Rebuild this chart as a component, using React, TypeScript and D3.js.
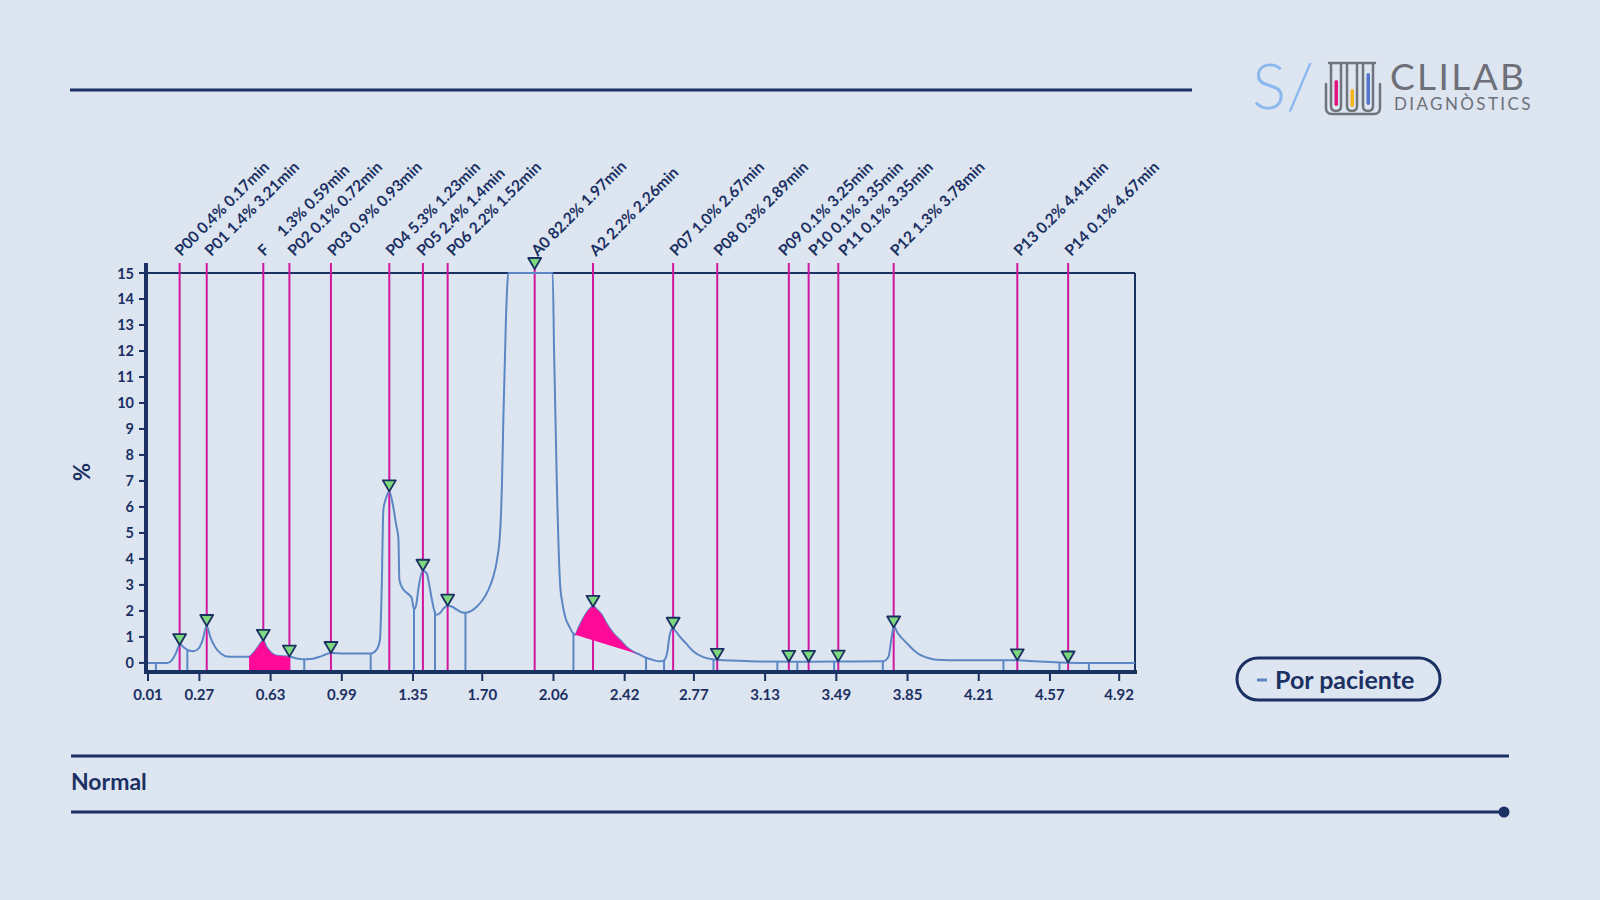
import React from "react";
import * as d3 from "d3";

const xTicks = [0.01, 0.27, 0.63, 0.99, 1.35, 1.70, 2.06, 2.42, 2.77, 3.13, 3.49, 3.85, 4.21, 4.57, 4.92];
const yTicks = [0, 1, 2, 3, 4, 5, 6, 7, 8, 9, 10, 11, 12, 13, 14, 15];

const peakNames = ["P00", "P01", "F", "P02", "P03", "P04", "P05", "P06", "A0", "A2", "P07", "P08", "P09", "P10", "P11", "P12", "P13", "P14"];
const peakPercents = ["0.4%", "1.4%", "1.3%", "0.1%", "0.9%", "5.3%", "2.4%", "2.2%", "82.2%", "2.2%", "1.0%", "0.3%", "0.1%", "0.1%", "0.1%", "1.3%", "0.2%", "0.1%"];
const peakLabelTimes = ["0.17min", "3.21min", "0.59min", "0.72min", "0.93min", "1.23min", "1.4min", "1.52min", "1.97min", "2.26min", "2.67min", "2.89min", "3.25min", "3.35min", "3.35min", "3.78min", "4.41min", "4.67min"];
const peakTimes = [0.17, 0.307, 0.593, 0.725, 0.935, 1.23, 1.40, 1.525, 1.965, 2.26, 2.665, 2.888, 3.25, 3.35, 3.50, 3.78, 4.405, 4.662];

const curveTimes = [
  0.0, 0.108, 0.13, 0.15, 0.172, 0.19, 0.215, 0.24, 0.265, 0.285, 0.307, 0.325, 0.35, 0.38, 0.408, 0.45,
  0.521, 0.545, 0.565, 0.593, 0.61, 0.627, 0.645, 0.661, 0.728, 0.77, 0.812, 0.85, 0.88, 0.91, 0.935, 1.0,
  1.136, 1.165, 1.183, 1.192, 1.2, 1.212, 1.23, 1.25, 1.265, 1.276, 1.281, 1.295, 1.318, 1.343, 1.355, 1.365,
  1.38, 1.399, 1.419, 1.432, 1.445, 1.466, 1.487, 1.505, 1.525, 1.55, 1.571, 1.595, 1.615, 1.645, 1.672, 1.70,
  1.731, 1.755, 1.773, 1.79, 1.80, 1.807, 1.82, 1.832, 2.056, 2.063, 2.077, 2.093, 2.105, 2.119, 2.14, 2.169,
  2.19, 2.211, 2.24, 2.262, 2.28, 2.304, 2.33, 2.363, 2.40, 2.431, 2.465, 2.498, 2.528, 2.56, 2.599, 2.619,
  2.635, 2.646, 2.663, 2.68, 2.70, 2.73, 2.768, 2.818, 2.869, 2.886, 3.0, 3.105, 3.3, 3.5, 3.725, 3.754,
  3.768, 3.781, 3.80, 3.846, 3.88, 3.914, 3.95, 3.998, 4.116, 4.335, 4.406, 4.5, 4.618, 4.8, 5.0,
];
const curveValues = [
  0.0, 0.0, 0.1, 0.35, 0.72, 0.6, 0.48, 0.45, 0.55, 0.85, 1.42, 1.0, 0.6, 0.35, 0.25, 0.24,
  0.24, 0.4, 0.6, 0.85, 0.6, 0.44, 0.32, 0.28, 0.24, 0.16, 0.14, 0.17, 0.24, 0.33, 0.38, 0.36,
  0.36, 0.5, 0.9, 3.0, 5.9, 6.3, 6.6, 6.0, 5.3, 4.8, 3.2, 2.9, 2.7, 2.5, 2.06, 2.2,
  3.0, 3.55, 3.45, 3.0, 2.45, 1.85, 1.92, 2.1, 2.2, 2.15, 2.05, 1.95, 1.93, 2.0, 2.16, 2.4,
  2.81, 3.3, 3.9, 5.0, 7.0, 9.5, 13.3, 15, 15, 12.0, 6.9, 3.1, 2.3, 1.78, 1.4, 1.08,
  1.4, 1.72, 2.05, 2.17, 2.05, 1.85, 1.5, 1.14, 0.85, 0.6, 0.42, 0.31, 0.2, 0.12, 0.06, 0.1,
  0.4, 1.0, 1.33, 1.2, 1.0, 0.75, 0.44, 0.22, 0.14, 0.12, 0.08, 0.05, 0.04, 0.05, 0.06, 0.24,
  0.9, 1.4, 1.15, 0.76, 0.5, 0.31, 0.2, 0.12, 0.1, 0.1, 0.1, 0.06, 0.02, 0.0, 0.0,
];

const boundaryTimes = [0.05, 0.209, 0.80, 1.136, 1.355, 1.461, 1.615, 2.161, 2.528, 2.619, 2.869, 3.192, 3.293, 3.479, 3.725, 4.335, 4.618, 4.767];

const fFillRange = [0.521, 0.728];
const a2FillRange = [2.169, 2.498];

const NAVY = "#1b3063";
const BLUE = "#5b87c5";
const MAGENTA = "#d0179e";
const PINK = "#ff0a98";
const BG = "#dde5f0";
const FONT = "Lato, 'Open Sans', sans-serif";

function spreadLabels(desired: number[], gap: number): number[] {
  const pos = desired.slice();
  for (let iter = 0; iter < 300; iter++) {
    let moved = false;
    for (let i = 1; i < pos.length; i++) {
      const d = pos[i] - pos[i - 1];
      if (d < gap - 0.01) {
        const push = (gap - d) / 2;
        pos[i - 1] -= push;
        pos[i] += push;
        moved = true;
      }
    }
    if (!moved) break;
  }
  return pos;
}

export default function App() {
  const x = d3.scaleLinear().domain([0, 5]).range([146, 1135]);
  const y = d3.scaleLinear().domain([-0.35, 15]).range([672, 273]);
  const pts: [number, number][] = curveTimes.map((t, i) => [t, curveValues[i]]);
  const interp = (t: number) => {
    const i = d3.bisector((d: [number, number]) => d[0]).left(pts, t);
    if (i <= 0) return pts[0][1];
    if (i >= pts.length) return pts[pts.length - 1][1];
    const [t0, v0] = pts[i - 1];
    const [t1, v1] = pts[i];
    return v0 + ((v1 - v0) * (t - t0)) / (t1 - t0);
  };
  const line = d3.line<[number, number]>().x((d) => x(d[0])).y((d) => y(d[1])).curve(d3.curveMonotoneX);
  const area = d3
    .area<[number, number]>()
    .x((d) => x(d[0]))
    .y0(y(-0.3))
    .y1((d) => y(d[1]))
    .curve(d3.curveMonotoneX);

  const fPts: [number, number][] = [[fFillRange[0], interp(fFillRange[0])], ...pts.filter((p) => p[0] > fFillRange[0] && p[0] < fFillRange[1]), [fFillRange[1], interp(fFillRange[1])]];
  const a2Pts: [number, number][] = [[a2FillRange[0], interp(a2FillRange[0])], ...pts.filter((p) => p[0] > a2FillRange[0] && p[0] < a2FillRange[1]), [a2FillRange[1], interp(a2FillRange[1])]];
  const a2Top = d3.line<[number, number]>().x((d) => x(d[0])).y((d) => y(d[1])).curve(d3.curveMonotoneX)(a2Pts) || "";
  const a2Path = a2Top + `L${x(a2Pts[0][0])},${y(a2Pts[0][1])}Z`;

  const axisBottom = 672;
  const labelX = spreadLabels(peakTimes.map((t) => x(t) + 3), 30);

  return (
    <svg width={1600} height={900} style={{ position: "absolute", left: 0, top: 0 }} fontFamily={FONT}>
      <rect x={0} y={0} width={1600} height={900} fill={BG} />
      {/* header line */}
      <line x1={70} x2={1192} y1={90} y2={90} stroke={NAVY} strokeWidth={3} />

      {/* logo */}
      <text x={1252} y={109} fontSize={64} fontWeight={300} fill="#8cb8f0">S/</text>
      <g stroke="#70747c" strokeWidth={2.5} fill="none" strokeLinecap="round" strokeLinejoin="round">
        <path d="M1326,84 L1326,108 Q1326,114 1332,114 L1374,114 Q1380,114 1380,108 L1380,84" />
        <path d="M1331,64 L1331,106 Q1331,111 1336,111 Q1341,111 1341,106 L1341,64" />
        <path d="M1347,64 L1347,106 Q1347,111 1352,111 Q1357,111 1357,106 L1357,64" />
        <path d="M1363,64 L1363,106 Q1363,111 1368,111 Q1373,111 1373,106 L1373,64" />
        <line x1={1329} x2={1343} y1={63} y2={63} />
        <line x1={1345} x2={1359} y1={63} y2={63} />
        <line x1={1361} x2={1375} y1={63} y2={63} />
      </g>
      <rect x={1334.5} y={80} width={3.5} height={26} rx={1.7} fill="#e0147f" />
      <rect x={1350.5} y={89} width={3.5} height={18} rx={1.7} fill="#f4b41c" />
      <rect x={1366.5} y={73} width={3.5} height={32} rx={1.7} fill="#5475cc" />
      <text x={1390} y={90} fontSize={37} fontWeight={400} fill="#6d7079" letterSpacing={2.4}>CLILAB</text>
      <text x={1394} y={110} fontSize={17} fontWeight={400} fill="#6d7079" letterSpacing={2.4}>DIAGNÒSTICS</text>

      {/* plot frame */}
      <line x1={146} x2={1135} y1={273} y2={273} stroke={NAVY} strokeWidth={2} />
      <line x1={1135} x2={1135} y1={273} y2={axisBottom} stroke={NAVY} strokeWidth={2} />

      {/* magenta peak lines */}
      {peakTimes.map((t, i) => (
        <line key={"m" + i} x1={x(t)} x2={x(t)} y1={263} y2={axisBottom} stroke={MAGENTA} strokeWidth={2} />
      ))}

      {/* curve */}
      <path d={line(pts) || ""} fill="none" stroke={BLUE} strokeWidth={2} />
      {boundaryTimes.map((t, i) => (
        <line key={"b" + i} x1={x(t)} x2={x(t)} y1={y(interp(t))} y2={axisBottom} stroke={BLUE} strokeWidth={2} />
      ))}

      {/* fills */}
      <path d={area(fPts) || ""} fill={PINK} />
      <path d={a2Path} fill={PINK} />

      {/* axes */}
      <line x1={146} x2={146} y1={263} y2={axisBottom + 2} stroke={NAVY} strokeWidth={4} />
      <line x1={144} x2={1137} y1={axisBottom} y2={axisBottom} stroke={NAVY} strokeWidth={4} />
      {yTicks.map((v) => (
        <g key={"y" + v}>
          <line x1={139} x2={146} y1={y(v)} y2={y(v)} stroke={NAVY} strokeWidth={2} />
          <text x={134} y={y(v)} textAnchor="end" dominantBaseline="central" fontSize={14.5} fontWeight={700} fill={NAVY}>{v}</text>
        </g>
      ))}
      {xTicks.map((v) => (
        <g key={"x" + v}>
          <line x1={x(v)} x2={x(v)} y1={axisBottom} y2={681} stroke={NAVY} strokeWidth={2} />
          <text x={x(v)} y={700} textAnchor="middle" fontSize={15} fontWeight={700} fill={NAVY}>{v.toFixed(2)}</text>
        </g>
      ))}
      <text x={81} y={472} transform="rotate(-90 81 472)" textAnchor="middle" dominantBaseline="central" fontSize={22} fontWeight={700} fill={NAVY}>%</text>

      {/* triangles */}
      {peakTimes.map((t, i) => {
        const cx = x(t);
        const tip = y(Math.min(15, interp(t))) - (interp(t) >= 15 ? 4 : 0);
        return (
          <path key={"t" + i} d={`M${cx - 6.5},${tip - 11}L${cx + 6.5},${tip - 11}L${cx},${tip}Z`} fill="#7ed87e" stroke={NAVY} strokeWidth={1.8} strokeLinejoin="round" />
        );
      })}

      {/* peak labels */}
      {peakTimes.map((t, i) => {
        const lx = labelX[i];
        const ly = 257;
        const label = peakNames[i] === "F" ? `F\u00A0\u00A0\u00A0\u00A0\u00A0${peakPercents[i]} ${peakLabelTimes[i]}` : `${peakNames[i]} ${peakPercents[i]} ${peakLabelTimes[i]}`;
        return (
          <text key={"l" + i} x={lx} y={ly} transform={`rotate(-45 ${lx} ${ly})`} fontSize={15.5} fontWeight={700} fill={NAVY} style={{ whiteSpace: "pre" }}>
            {label}
          </text>
        );
      })}

      {/* legend */}
      <rect x={1237} y={658} width={203} height={42} rx={21} fill="none" stroke={NAVY} strokeWidth={3} />
      <line x1={1257} x2={1267} y1={680} y2={680} stroke={BLUE} strokeWidth={3} />
      <text x={1275} y={689} fontSize={25} fontWeight={700} fill={NAVY}>Por paciente</text>

      {/* footer */}
      <line x1={71} x2={1509} y1={756} y2={756} stroke={NAVY} strokeWidth={3} />
      <text x={71} y={790} fontSize={23} fontWeight={700} fill={NAVY}>Normal</text>
      <line x1={71} x2={1504} y1={812} y2={812} stroke={NAVY} strokeWidth={3} />
      <circle cx={1504} cy={812} r={5.5} fill={NAVY} />
    </svg>
  );
}
